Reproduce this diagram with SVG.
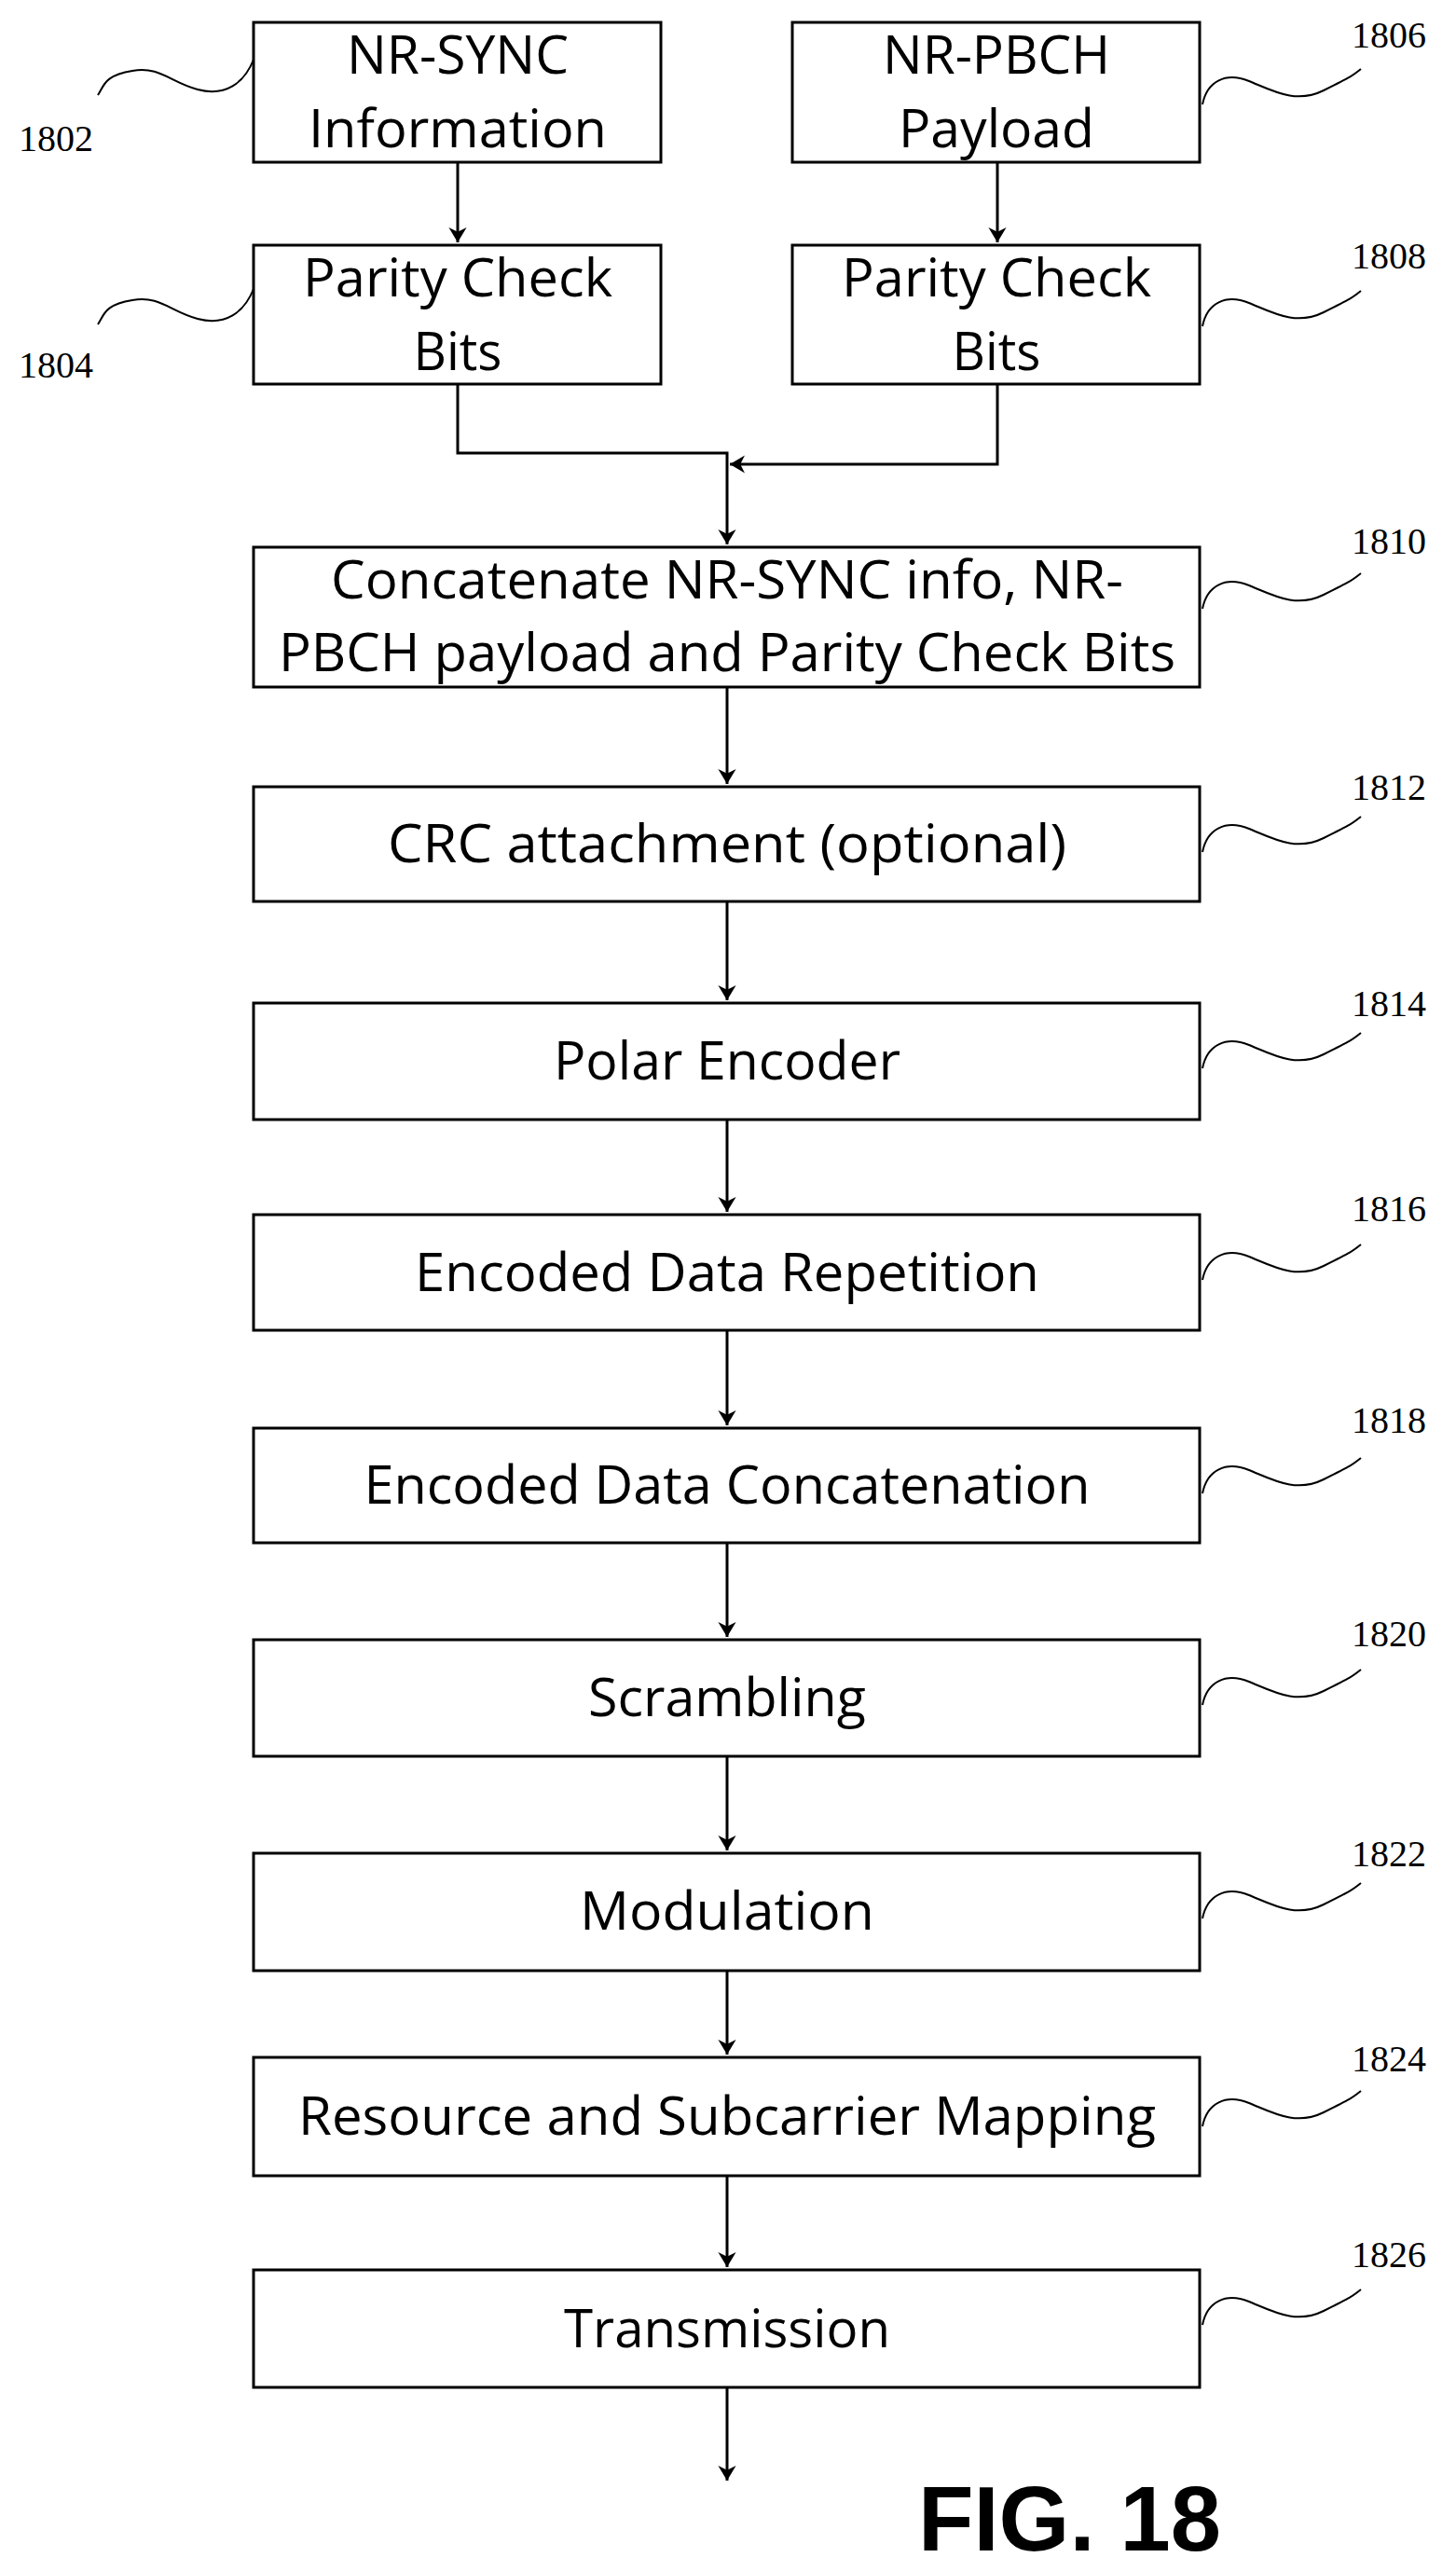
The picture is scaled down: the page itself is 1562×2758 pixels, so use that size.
<svg xmlns="http://www.w3.org/2000/svg" width="1562" height="2758" viewBox="0 0 1562 2758">
<style>
.b{fill:#fff;stroke:#000;stroke-width:3}
.t{font-family:"Open Sans","Liberation Sans",sans-serif;font-size:56px;text-anchor:middle;fill:#000}
.n{font-family:"Liberation Serif",serif;font-size:40px;fill:#000}
.c{fill:none;stroke:#000;stroke-width:3}
.s{fill:none;stroke:#000;stroke-width:2}
</style>
<defs>
<marker id="ah" viewBox="0 0 20 24" markerWidth="16" markerHeight="20" refX="20" refY="12" orient="auto" markerUnits="userSpaceOnUse"><path d="M0,0 L20,12 L0,24 L6,12 Z" fill="#000"/></marker></defs>
<g id="connectors">
<path class="c" d="M491,174 V260" marker-end="url(#ah)"/>
<path class="c" d="M1070,174 V260" marker-end="url(#ah)"/>
<path class="c" d="M491,412 V486 H780 V584" marker-end="url(#ah)"/>
<path class="c" d="M1070,412 V498 H783" marker-end="url(#ah)"/>
<path class="c" d="M780,737 V841" marker-end="url(#ah)"/>
<path class="c" d="M780,967 V1073" marker-end="url(#ah)"/>
<path class="c" d="M780,1201 V1300" marker-end="url(#ah)"/>
<path class="c" d="M780,1427 V1529" marker-end="url(#ah)"/>
<path class="c" d="M780,1655 V1756" marker-end="url(#ah)"/>
<path class="c" d="M780,1884 V1985" marker-end="url(#ah)"/>
<path class="c" d="M780,2114 V2204" marker-end="url(#ah)"/>
<path class="c" d="M780,2334 V2432" marker-end="url(#ah)"/>
<path class="c" d="M780,2561 V2661" marker-end="url(#ah)"/>
</g>
<g id="n1802"><rect class="b" x="272" y="24" width="437" height="150"/><text class="t" x="491" y="79" textLength="238" lengthAdjust="spacingAndGlyphs">NR-SYNC</text><text class="t" x="491" y="158" textLength="320" lengthAdjust="spacingAndGlyphs">Information</text>
<path class="s" d="M272,64 c-10,25 -30,40 -60,32 s-40,-25 -70,-20 s-30,15 -37,26"/><text class="n" x="20" y="162">1802</text></g>
<g id="n1804"><rect class="b" x="272" y="263" width="437" height="149"/><text class="t" x="491" y="318" textLength="332" lengthAdjust="spacingAndGlyphs">Parity Check</text><text class="t" x="491" y="397" textLength="95" lengthAdjust="spacingAndGlyphs">Bits</text>
<path class="s" d="M272,310 c-10,25 -30,40 -60,32 s-40,-25 -70,-20 s-30,15 -37,26"/><text class="n" x="20" y="405">1804</text></g>
<g id="n1806"><rect class="b" x="850" y="24" width="437" height="150"/><text class="t" x="1069" y="79" textLength="244" lengthAdjust="spacingAndGlyphs">NR-PBCH</text><text class="t" x="1069" y="158" textLength="210" lengthAdjust="spacingAndGlyphs">Payload</text>
<path class="s" d="M1290,112 c5,-25 25,-35 50,-25 s50,25 80,10 s30,-15 40,-23"/><text class="n" x="1450" y="51">1806</text></g>
<g id="n1808"><rect class="b" x="850" y="263" width="437" height="149"/><text class="t" x="1069" y="318" textLength="332" lengthAdjust="spacingAndGlyphs">Parity Check</text><text class="t" x="1069" y="397" textLength="95" lengthAdjust="spacingAndGlyphs">Bits</text>
<path class="s" d="M1290,350 c5,-25 25,-35 50,-25 s50,25 80,10 s30,-15 40,-23"/><text class="n" x="1450" y="288">1808</text></g>
<g id="n1810"><rect class="b" x="272" y="587" width="1015" height="150"/><text class="t" x="780" y="642" textLength="850" lengthAdjust="spacingAndGlyphs">Concatenate NR-SYNC info, NR-</text><text class="t" x="780" y="720" textLength="962" lengthAdjust="spacingAndGlyphs">PBCH payload and Parity Check Bits</text>
<path class="s" d="M1290,653 c5,-25 25,-35 50,-25 s50,25 80,10 s30,-15 40,-23"/><text class="n" x="1450" y="594">1810</text></g>
<g id="n1812"><rect class="b" x="272" y="844" width="1015" height="123"/><text class="t" x="780" y="925" textLength="728" lengthAdjust="spacingAndGlyphs">CRC attachment (optional)</text>
<path class="s" d="M1290,914 c5,-25 25,-35 50,-25 s50,25 80,10 s30,-15 40,-23"/><text class="n" x="1450" y="858">1812</text></g>
<g id="n1814"><rect class="b" x="272" y="1076" width="1015" height="125"/><text class="t" x="780" y="1158" textLength="372" lengthAdjust="spacingAndGlyphs">Polar Encoder</text>
<path class="s" d="M1290,1146 c5,-25 25,-35 50,-25 s50,25 80,10 s30,-15 40,-23"/><text class="n" x="1450" y="1090">1814</text></g>
<g id="n1816"><rect class="b" x="272" y="1303" width="1015" height="124"/><text class="t" x="780" y="1385" textLength="670" lengthAdjust="spacingAndGlyphs">Encoded Data Repetition</text>
<path class="s" d="M1290,1373 c5,-25 25,-35 50,-25 s50,25 80,10 s30,-15 40,-23"/><text class="n" x="1450" y="1310">1816</text></g>
<g id="n1818"><rect class="b" x="272" y="1532" width="1015" height="123"/><text class="t" x="780" y="1613" textLength="779" lengthAdjust="spacingAndGlyphs">Encoded Data Concatenation</text>
<path class="s" d="M1290,1602 c5,-25 25,-35 50,-25 s50,25 80,10 s30,-15 40,-23"/><text class="n" x="1450" y="1537">1818</text></g>
<g id="n1820"><rect class="b" x="272" y="1759" width="1015" height="125"/><text class="t" x="780" y="1841" textLength="298" lengthAdjust="spacingAndGlyphs">Scrambling</text>
<path class="s" d="M1290,1829 c5,-25 25,-35 50,-25 s50,25 80,10 s30,-15 40,-23"/><text class="n" x="1450" y="1766">1820</text></g>
<g id="n1822"><rect class="b" x="272" y="1988" width="1015" height="126"/><text class="t" x="780" y="2070" textLength="316" lengthAdjust="spacingAndGlyphs">Modulation</text>
<path class="s" d="M1290,2058 c5,-25 25,-35 50,-25 s50,25 80,10 s30,-15 40,-23"/><text class="n" x="1450" y="2002">1822</text></g>
<g id="n1824"><rect class="b" x="272" y="2207" width="1015" height="127"/><text class="t" x="780" y="2290" textLength="920" lengthAdjust="spacingAndGlyphs">Resource and Subcarrier Mapping</text>
<path class="s" d="M1290,2281 c5,-25 25,-35 50,-25 s50,25 80,10 s30,-15 40,-23"/><text class="n" x="1450" y="2222">1824</text></g>
<g id="n1826"><rect class="b" x="272" y="2435" width="1015" height="126"/><text class="t" x="780" y="2518" textLength="350" lengthAdjust="spacingAndGlyphs">Transmission</text>
<path class="s" d="M1290,2494 c5,-25 25,-35 50,-25 s50,25 80,10 s30,-15 40,-23"/><text class="n" x="1450" y="2432">1826</text></g>
<text x="985" y="2736" font-family="Liberation Sans,sans-serif" font-weight="bold" font-size="98" textLength="325" lengthAdjust="spacingAndGlyphs">FIG. 18</text>
</svg>
